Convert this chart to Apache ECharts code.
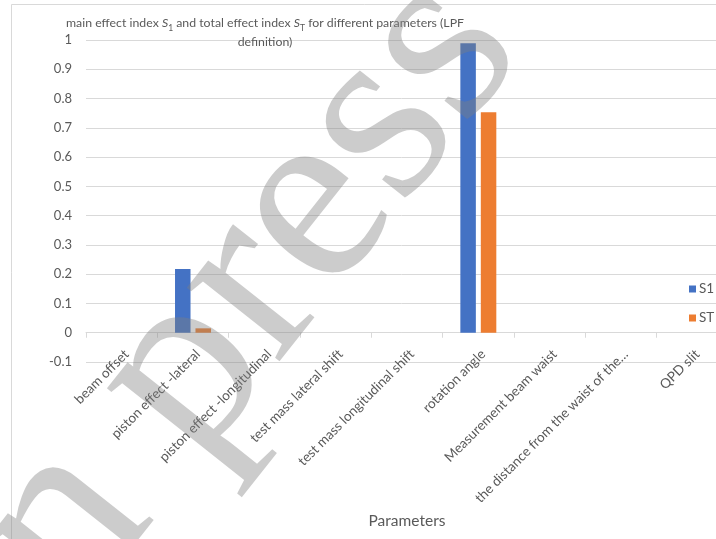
<!DOCTYPE html>
<html>
<head>
<meta charset="utf-8">
<script src="https://cdn.jsdelivr.net/npm/echarts@6/dist/echarts.min.js"></script>
<style>
  html, body { margin: 0; padding: 0; background: #ffffff; }
  #chart { width: 716px; height: 539px; }
</style>
</head>
<body>
<div id="chart"></div>
<script>
// Sensitivity indices per parameter
const categories = [
  'beam offset',
  'piston effect -lateral',
  'piston effect -longitudinal',
  'test mass lateral shift',
  'test mass longitudinal shift',
  'rotation angle',
  'Measurement beam waist',
  'the distance from the waist of the\u2026',
  'QPD slit'
];
const s1Values = [0, 0.218, 0, 0, 0, 0.989, 0, 0, 0];
const stValues = [0, 0.015, 0, 0, 0, 0.753, 0, 0, 0];
const seriesNames = ['S1', 'ST'];
const xAxisTitle = 'Parameters';

const FONT = 'Lato, "Open Sans", sans-serif';
const TEXT_COLOR = '#595959';
const LINE_COLOR = '#d9d9d9';

const chart = echarts.init(document.getElementById('chart'), null, { renderer: 'canvas' });

chart.setOption({
  backgroundColor: '#ffffff',
  animation: false,
  title: {
    text: '{t|main effect index }{i|S}{sub|1}{t| and total effect index }{i|S}{sub|T}{t| for different parameters (LPF}\n{t|definition)}',
    left: 260,
    top: 9,
    textAlign: 'center',
    textStyle: {
      fontWeight: 'normal',
      rich: {
        t: { fontFamily: FONT, fontSize: 12.3, fontWeight: 'normal', color: TEXT_COLOR, lineHeight: 19 },
        i: { fontFamily: FONT, fontSize: 12.3, fontWeight: 'normal', color: TEXT_COLOR, fontStyle: 'italic', lineHeight: 19 },
        sub: { fontFamily: FONT, fontSize: 8.5, fontWeight: 'normal', color: TEXT_COLOR, lineHeight: 19, verticalAlign: 'bottom' }
      }
    }
  },
  legend: {
    orient: 'vertical',
    left: 684,
    top: 277,
    itemWidth: 7,
    itemHeight: 7,
    itemGap: 15,
    icon: 'rect',
    data: seriesNames,
    textStyle: { fontFamily: FONT, fontSize: 13.5, color: TEXT_COLOR, padding: [0, 0, 0, -2] }
  },
  grid: {
    left: 86,
    top: 40,
    width: 642,
    height: 322,
    containLabel: false,
    outerBoundsMode: 'none'
  },
  xAxis: {
    type: 'category',
    data: categories,
    axisLine: { onZero: true, lineStyle: { color: LINE_COLOR, width: 1 } },
    axisTick: { show: true, length: 5, lineStyle: { color: LINE_COLOR } },
    axisLabel: {
      rotate: 45,
      interval: 0,
      margin: -15,
      verticalAlign: 'top',
      fontFamily: FONT,
      fontSize: 13.5,
      color: TEXT_COLOR
    }
  },
  yAxis: {
    type: 'value',
    min: -0.1,
    max: 1,
    interval: 0.1,
    axisLine: { show: false },
    axisTick: { show: false },
    splitLine: { lineStyle: { color: LINE_COLOR, width: 1 } },
    axisLabel: {
      margin: 14,
      fontFamily: FONT,
      fontSize: 13,
      color: TEXT_COLOR,
      formatter: v => String(parseFloat(v.toFixed(1)))
    }
  },
  series: [
    {
      name: seriesNames[0],
      type: 'bar',
      data: s1Values,
      barWidth: 15.5,
      barGap: '32%',
      itemStyle: { color: '#4472c4' }
    },
    {
      name: seriesNames[1],
      type: 'bar',
      data: stValues,
      barWidth: 15.5,
      barGap: '32%',
      itemStyle: { color: '#ed7d31' }
    }
  ],
  graphic: [
    {
      // chart area border
      type: 'rect',
      z: -10,
      silent: true,
      shape: { x: 11.5, y: 4.5, width: 900, height: 700 },
      style: { fill: 'none', stroke: LINE_COLOR, lineWidth: 1 }
    },
    {
      // x axis title, centred under the plot
      type: 'text',
      silent: true,
      x: 407,
      y: 521,
      style: {
        text: xAxisTitle,
        font: '15.5px Lato, "Open Sans", sans-serif',
        fill: TEXT_COLOR,
        textAlign: 'center',
        textVerticalAlign: 'middle'
      }
    },
    {
      // publisher watermark
      type: 'text',
      z: 100,
      silent: true,
      x: 221,
      y: 326,
      rotation: 51.6 * Math.PI / 180,
      style: {
        text: 'In press',
        font: '258px "Liberation Serif", serif',
        fill: 'rgba(128,128,128,0.4)',
        textAlign: 'center',
        textVerticalAlign: 'middle'
      }
    }
  ]
});
</script>
</body>
</html>
